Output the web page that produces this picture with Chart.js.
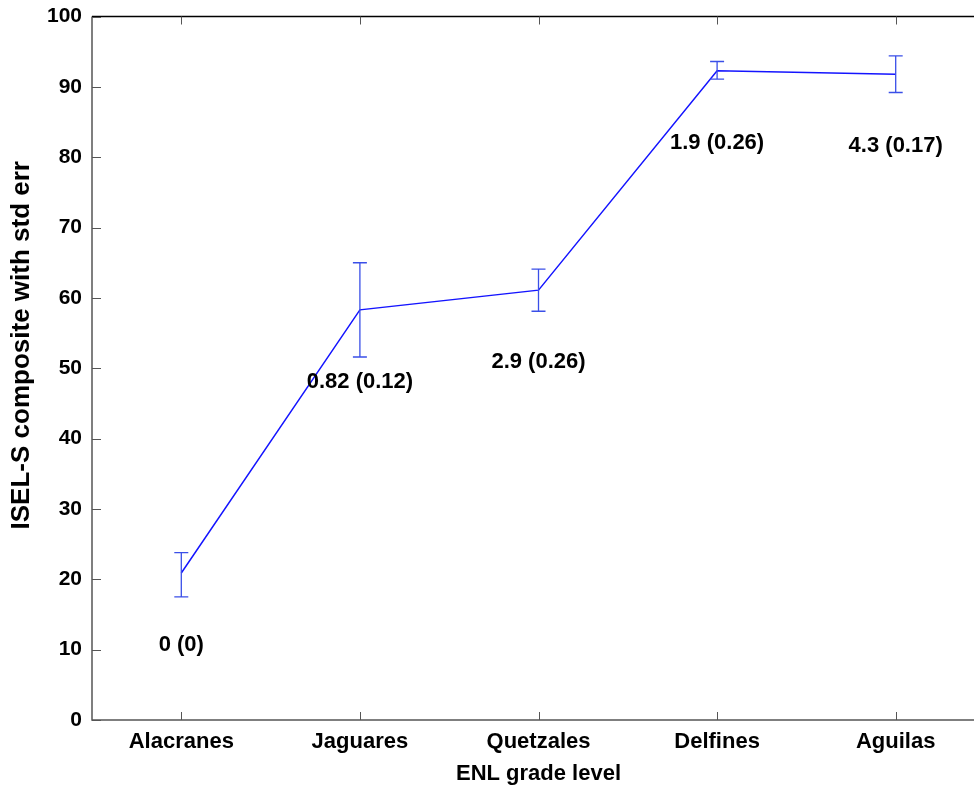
<!DOCTYPE html>
<html>
<head>
<meta charset="utf-8">
<script src="https://cdn.jsdelivr.net/npm/chart.js@4.4.0/dist/chart.umd.min.js"></script>
<style>
  html, body { margin: 0; padding: 0; overflow: hidden; background: #fff; }
  #wrap { width: 985px; height: 790px; }
</style>
</head>
<body>
<div id="wrap"><canvas id="graph"></canvas></div>
<script>
// données
const groupes = ["Alacranes", "Jaguares", "Quetzales", "Delfines", "Aguilas"];
const moyennes = [20.9, 58.3, 61.1, 92.3, 91.8];
const bornesBasses = [17.5, 51.6, 58.1, 91.1, 89.2];
const bornesHautes = [23.8, 65.0, 64.1, 93.6, 94.4];
const etiquettes = ["0 (0)", "0.82 (0.12)", "2.9 (0.26)", "1.9 (0.26)", "4.3 (0.17)"];
const yTicks = [0, 10, 20, 30, 40, 50, 60, 70, 80, 90, 100];
const titreY = "ISEL-S composite with std err";

const police = "'Liberation Sans', Arial, Helvetica, sans-serif";

// cadre, petites graduations vers l'intérieur, barres d'erreur et étiquettes
const decor = {
    id: "decor",
    afterDatasetsDraw(chart) {
        const ctx = chart.ctx;
        const area = chart.chartArea;
        const x = chart.scales.x;
        const y = chart.scales.y;
        ctx.save();

        // axes
        ctx.lineWidth = 1.5;
        ctx.strokeStyle = "#555";
        ctx.beginPath();
        ctx.moveTo(area.left, area.top);
        ctx.lineTo(area.left, area.bottom);
        ctx.lineTo(area.right, area.bottom);
        ctx.stroke();
        ctx.strokeStyle = "#000";
        ctx.beginPath();
        ctx.moveTo(area.left, area.top);
        ctx.lineTo(area.right, area.top);
        ctx.stroke();

        // graduations
        ctx.lineWidth = 1;
        ctx.strokeStyle = "#555";
        ctx.beginPath();
        yTicks.forEach(v => {
            const py = Math.round(y.getPixelForValue(v)) + 0.5;
            ctx.moveTo(area.left, py);
            ctx.lineTo(area.left + 9, py);
        });
        groupes.forEach((g, i) => {
            const px = Math.round(x.getPixelForValue(i)) + 0.5;
            ctx.moveTo(px, area.bottom);
            ctx.lineTo(px, area.bottom - 8);
            ctx.moveTo(px, area.top);
            ctx.lineTo(px, area.top + 8);
        });
        ctx.stroke();

        // barres d'erreur
        ctx.strokeStyle = "#3a4fe8";
        ctx.lineWidth = 1.3;
        ctx.beginPath();
        groupes.forEach((g, i) => {
            const px = x.getPixelForValue(i);
            const lo = y.getPixelForValue(bornesBasses[i]);
            const hi = y.getPixelForValue(bornesHautes[i]);
            ctx.moveTo(px, lo);
            ctx.lineTo(px, hi);
            ctx.moveTo(px - 7, lo);
            ctx.lineTo(px + 7, lo);
            ctx.moveTo(px - 7, hi);
            ctx.lineTo(px + 7, hi);
        });
        ctx.stroke();

        // étiquettes sous les points
        ctx.fillStyle = "#000";
        ctx.font = "bold 22px " + police;
        ctx.textAlign = "center";
        ctx.textBaseline = "middle";
        etiquettes.forEach((t, i) => {
            const px = x.getPixelForValue(i);
            const py = y.getPixelForValue(moyennes[i]) + 72;
            ctx.fillText(t, px, py);
        });

        // titre de l'axe Y (un peu au-dessus du centre, comme l'original)
        ctx.translate(22, (area.top + area.bottom) / 2 - 23);
        ctx.rotate(-Math.PI / 2);
        ctx.font = "bold 26px " + police;
        ctx.fillText(titreY, 0, 0);
        ctx.restore();
    }
};

const ctx = document.getElementById("graph").getContext("2d");
const chart = new Chart(ctx, {
    type: "line",
    data: {
        labels: groupes,
        datasets: [{
            data: moyennes,
            borderColor: "#1414ff",
            borderWidth: 1.5,
            pointRadius: 0,
            tension: 0,
            fill: false
        }]
    },
    options: {
        responsive: true,
        maintainAspectRatio: false,
        animation: false,
        layout: { padding: { top: 16.5, right: 0, left: 0, bottom: 0 } },
        plugins: {
            legend: { display: false },
            tooltip: { enabled: false }
        },
        scales: {
            x: {
                type: "category",
                offset: true,
                grid: { display: false, drawTicks: false },
                border: { display: false },
                ticks: {
                    color: "#000",
                    padding: 9,
                    maxRotation: 0,
                    font: { family: police, size: 22, weight: "bold" }
                },
                title: {
                    display: true,
                    text: "ENL grade level",
                    color: "#000",
                    padding: { top: 0, bottom: 3 },
                    font: { family: police, size: 22, weight: "bold" }
                },
                afterFit(scale) {
                    scale.height = 70;
                    scale.paddingLeft = 0;
                    scale.paddingRight = 0;
                }
            },
            y: {
                min: 0,
                max: 100,
                afterBuildTicks(scale) {
                    scale.ticks = yTicks.map(v => ({ value: v }));
                },
                grid: { display: false, drawTicks: false },
                border: { display: false },
                ticks: {
                    color: "#000",
                    padding: 10,
                    font: { family: police, size: 21, weight: "bold" }
                },
                title: { display: false },
                afterFit(scale) {
                    scale.width = 92;
                    scale.paddingTop = 0;
                    scale.paddingBottom = 0;
                }
            }
        }
    },
    plugins: [decor]
});
</script>
</body>
</html>
